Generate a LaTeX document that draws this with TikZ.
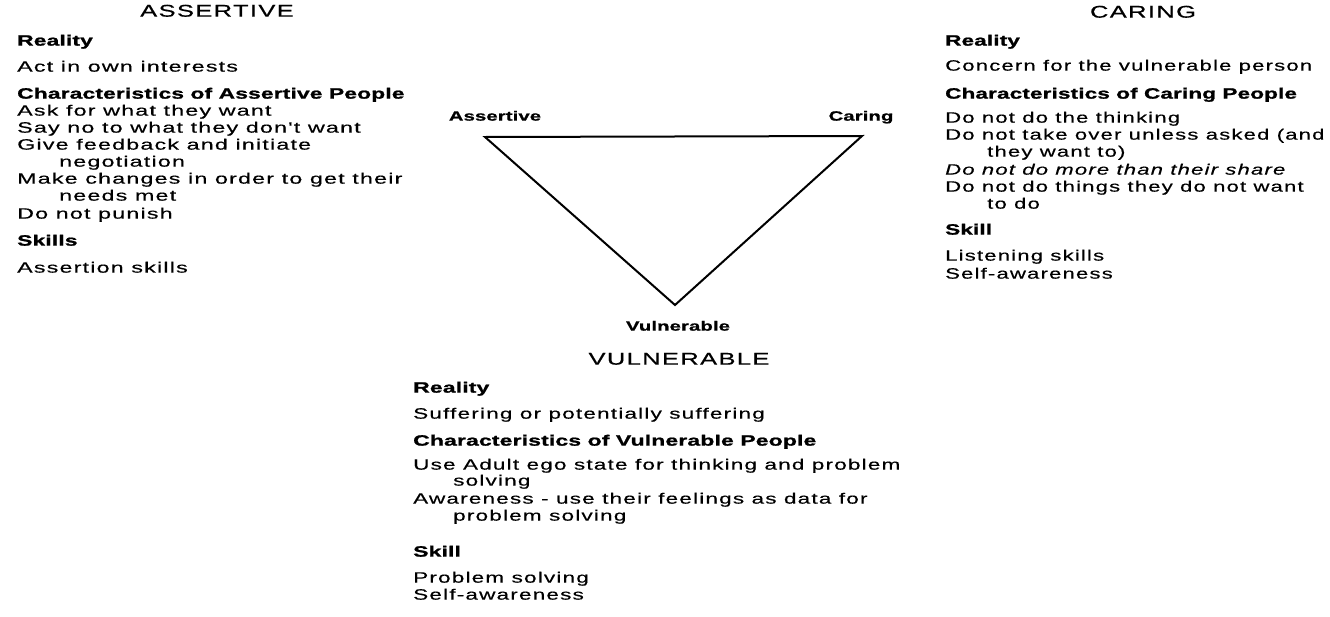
\documentclass[tikz,border=0pt]{standalone}
\usepackage{fontspec}
\setmainfont{Liberation Sans}[FakeStretch=1.5, LetterSpace=8,
  BoldFeatures={LetterSpace=1}, ItalicFeatures={LetterSpace=8}]
\newfontfamily\Lfont{Liberation Sans}[FakeStretch=1.55, LetterSpace=8,
  UprightFeatures={FakeBold=0.4},
  BoldFeatures={FakeStretch=1.52, LetterSpace=1, FakeBold=1.2}]
\newfontfamily\Rfont{Liberation Sans}[FakeStretch=1.47, LetterSpace=8,
  UprightFeatures={FakeBold=0.4},
  BoldFeatures={FakeStretch=1.5, LetterSpace=1, FakeBold=1.2},
  ItalicFeatures={FakeBold=0.4}]
\newfontfamily\Vfont{Liberation Sans}[FakeStretch=1.5, LetterSpace=8,
  UprightFeatures={FakeBold=0.4},
  BoldFeatures={FakeStretch=1.53, LetterSpace=1, FakeBold=1.2}]
\newfontfamily\Tfont{Liberation Sans}[FakeStretch=1.5, LetterSpace=8,
  UprightFeatures={FakeBold=0.5},
  BoldFeatures={LetterSpace=1, FakeBold=1.0}]
\begin{document}
\begin{tikzpicture}[x=1pt,y=-1pt,
  txt/.style={anchor=mid west, inner sep=0pt},
  lb/.style={txt, font=\Lfont\fontsize{15}{17}\selectfont},
  lh/.style={txt, font=\Lfont\fontsize{15}{17}\selectfont\bfseries},
  rb/.style={txt, font=\Rfont\fontsize{15}{17}\selectfont},
  rh/.style={txt, font=\Rfont\fontsize{15}{17}\selectfont\bfseries},
  vb/.style={txt, font=\Vfont\fontsize{15}{17}\selectfont},
  vh/.style={txt, font=\Vfont\fontsize{15}{17}\selectfont\bfseries},
  title/.style={anchor=mid, inner sep=0pt, font=\Tfont\fontsize{17}{20}\selectfont},
  vlab/.style={anchor=mid, inner sep=0pt, font=\Tfont\fontsize{13.5}{16}\selectfont\bfseries},
  edge/.style={line width=2pt, line join=miter}]
\useasboundingbox (0,0) rectangle (1330,616);
% titles
\node[title] (tA) at (217,14) {ASSERTIVE};
\node[title] (tC) at (1143,15) {CARING};
\node[title] (tV) at (679,362) {VULNERABLE};
% left column
\node[lh] (a1)  at (17,43)  {Reality};
\node[lb] (a2)  at (17,69)  {Act in own interests};
\node[lh] (a3)  at (17,96)  {Characteristics of Assertive People};
\node[lb] (a4)  at (17,113) {Ask for what they want};
\node[lb] (a5)  at (17,130) {Say no to what they don't want};
\node[lb] (a6)  at (17,147) {Give feedback and initiate};
\node[lb] (a7)  at (59,164) {negotiation};
\node[lb] (a8)  at (17,181) {Make changes in order to get their};
\node[lb] (a9)  at (59,198) {needs met};
\node[lb] (a10) at (17,216) {Do not punish};
\node[lh] (a11) at (17,243) {Skills};
\node[lb] (a12) at (17,270) {Assertion skills};
% right column
\node[rh] (c1)  at (945,43)  {Reality};
\node[rb] (c2)  at (945,68)  {Concern for the vulnerable person};
\node[rh] (c3)  at (945,96)  {Characteristics of Caring People};
\node[rb] (c4)  at (945,120) {Do not do the thinking};
\node[rb] (c5)  at (945,137) {Do not take over unless asked (and};
\node[rb] (c6)  at (987,154) {they want to)};
\node[rb] (c7)  at (945,172) {\itshape Do not do more than their share};
\node[rb] (c8)  at (945,189) {Do not do things they do not want};
\node[rb] (c9)  at (987,206) {to do};
\node[rh] (c10) at (945,232) {Skill};
\node[rb] (c11) at (945,258) {Listening skills};
\node[rb] (c12) at (945,276) {Self-awareness};
% bottom column
\node[vh] (v1)  at (413,390) {Reality};
\node[vb] (v2)  at (413,416) {Suffering or potentially suffering};
\node[vh] (v3)  at (413,443) {Characteristics of Vulnerable People};
\node[vb] (v4)  at (413,467) {Use Adult ego state for thinking and problem};
\node[vb] (v5)  at (453,483) {solving};
\node[vb] (v6)  at (413,501) {Awareness - use their feelings as data for};
\node[vb] (v7)  at (453,518) {problem solving};
\node[vh] (v8)  at (413,554) {Skill};
\node[vb] (v9)  at (413,580) {Problem solving};
\node[vb] (v10) at (413,597) {Self-awareness};
% triangle
\coordinate (PA) at (485,137);
\coordinate (PC) at (862,136);
\coordinate (PV) at (675,305);
\draw[edge] (PA) -- (PC) -- (PV) -- cycle;
\node[vlab] (lA) at (495,118) {Assertive};
\node[vlab] (lC) at (861,118) {Caring};
\node[vlab] (lV) at (678,328) {Vulnerable};
\end{tikzpicture}
\end{document}
